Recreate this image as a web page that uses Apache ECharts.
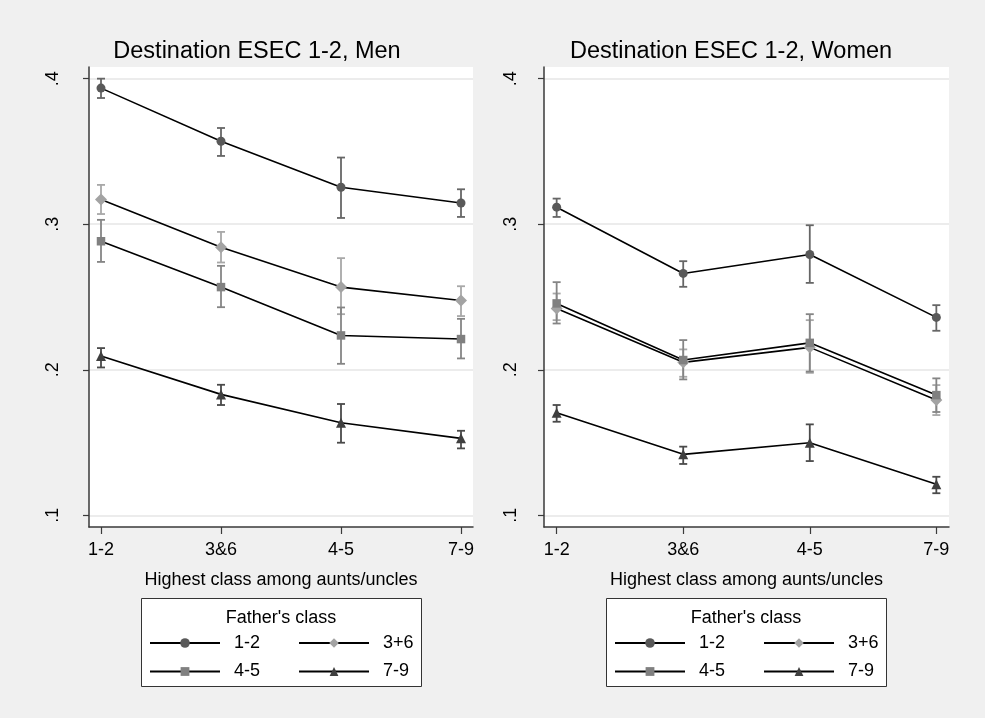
<!DOCTYPE html>
<html>
<head>
<meta charset="utf-8">
<script src="https://cdn.jsdelivr.net/npm/echarts@6/dist/echarts.min.js"></script>
<style>
html,body{margin:0;padding:0;background:#f0f0f0;}
#c{width:985px;height:718px;}
</style>
</head>
<body>
<div id="c"></div>
<script>
// ---- data ----
const categories = ['1-2', '3&6', '4-5', '7-9'];
const fatherClasses = ['1-2', '3+6', '4-5', '7-9'];
const yTicks = [0.1, 0.2, 0.3, 0.4];
const panelTitles = ['Destination ESEC 1-2, Men', 'Destination ESEC 1-2, Women'];
const xTitle = 'Highest class among aunts/uncles';
const legendTitle = "Father's class";

// Men
const menPt12 = [0.3935, 0.3570, 0.3254, 0.3146];
const menLo12 = [0.3867, 0.3469, 0.3043, 0.3050];
const menHi12 = [0.4000, 0.3661, 0.3458, 0.3240];
const menPt36 = [0.3170, 0.2842, 0.2568, 0.2476];
const menLo36 = [0.3070, 0.2737, 0.2382, 0.2369];
const menHi36 = [0.3270, 0.2947, 0.2767, 0.2574];
const menPt45 = [0.2883, 0.2568, 0.2236, 0.2211];
const menLo45 = [0.2741, 0.2430, 0.2041, 0.2078];
const menHi45 = [0.3030, 0.2714, 0.2428, 0.2350];
const menPt79 = [0.2094, 0.1831, 0.1636, 0.1529];
const menLo79 = [0.2016, 0.1758, 0.1499, 0.1460];
const menHi79 = [0.2149, 0.1897, 0.1765, 0.1581];

// Women
const womenPt12 = [0.3117, 0.2662, 0.2792, 0.2360];
const womenLo12 = [0.3050, 0.2570, 0.2597, 0.2268];
const womenHi12 = [0.3176, 0.2746, 0.2993, 0.2444];
const womenPt36 = [0.2421, 0.2051, 0.2154, 0.1792];
const womenLo36 = [0.2341, 0.1952, 0.1979, 0.1689];
const womenHi36 = [0.2524, 0.2140, 0.2341, 0.1895];
const womenPt45 = [0.2456, 0.2067, 0.2185, 0.1826];
const womenLo45 = [0.2318, 0.1934, 0.1988, 0.1710];
const womenHi45 = [0.2602, 0.2204, 0.2382, 0.1941];
const womenPt79 = [0.1705, 0.1419, 0.1499, 0.1213];
const womenLo79 = [0.1643, 0.1353, 0.1373, 0.1152];
const womenHi79 = [0.1758, 0.1472, 0.1625, 0.1265];

// ---- styles ----
const FONT = "'Liberation Sans', Arial, Helvetica, sans-serif";
const markerSymbols = ['circle', 'diamond', 'rect', 'triangle'];
const markerSizes = [9, 12, 8.5, 10];
const markerColors = ['#595959', '#a3a3a3', '#808080', '#3f3f3f'];
const barColors = ['#666666', '#a8a8a8', '#858585', '#4a4a4a'];

const panels = [
  { pts: [menPt12, menPt36, menPt45, menPt79], lo: [menLo12, menLo36, menLo45, menLo79], hi: [menHi12, menHi36, menHi45, menHi79] },
  { pts: [womenPt12, womenPt36, womenPt45, womenPt79], lo: [womenLo12, womenLo36, womenLo45, womenLo79], hi: [womenHi12, womenHi36, womenHi45, womenHi79] }
];

const gridsLayout = [
  { left: 89, right: 512, top: 67, bottom: 191 },
  { left: 544, right: 36, top: 67, bottom: 191 }
];

function makeX(i) {
  return {
    type: 'value', gridIndex: i, min: 0.9, max: 4.1,
    axisLine: { show: true, lineStyle: { color: '#3a3a3a', width: 1.5 } },
    axisTick: { show: true, length: 7, customValues: [1, 2, 3, 4], lineStyle: { color: '#3a3a3a', width: 1.2 } },
    axisLabel: { customValues: [1, 2, 3, 4], formatter: v => categories[Math.round(v) - 1], color: '#000', fontSize: 18, fontFamily: FONT, margin: 14 },
    splitLine: { show: false },
    name: xTitle, nameLocation: 'middle', nameGap: 44,
    nameTextStyle: { color: '#000', fontSize: 18, fontFamily: FONT }
  };
}
function makeY(i) {
  return {
    type: 'value', gridIndex: i, min: 0.092, max: 0.408,
    axisLine: { show: true, lineStyle: { color: '#3a3a3a', width: 1.5 } },
    axisTick: { show: true, length: 6, customValues: yTicks, lineStyle: { color: '#3a3a3a', width: 1.2 } },
    axisLabel: { customValues: yTicks, rotate: 90, formatter: v => '.' + Math.round(v * 10), color: '#000', fontSize: 18, fontFamily: FONT, margin: i === 0 ? 27 : 24 },
    splitLine: { show: true, lineStyle: { color: '#e6e6e6', width: 1.5 } }
  };
}

const series = [];
panels.forEach((p, gi) => {
  for (let s = 0; s < 4; s++) {
    series.push({
      type: 'custom', name: 'ci' + gi + '_' + s, xAxisIndex: gi, yAxisIndex: gi, z: 2,
      data: p.lo[s].map((lo, k) => [k + 1, lo, p.hi[s][k]]),
      renderItem: function (params, api) {
        const x = api.value(0);
        const a = api.coord([x, api.value(2)]);
        const b = api.coord([x, api.value(1)]);
        const w = 4;
        const st = { stroke: barColors[s], lineWidth: 1.8 };
        return {
          type: 'group', children: [
            { type: 'line', shape: { x1: a[0], y1: a[1], x2: b[0], y2: b[1] }, style: st },
            { type: 'line', shape: { x1: a[0] - w, y1: a[1], x2: a[0] + w, y2: a[1] }, style: st },
            { type: 'line', shape: { x1: b[0] - w, y1: b[1], x2: b[0] + w, y2: b[1] }, style: st }
          ]
        };
      },
      silent: true
    });
  }
  for (let s = 0; s < 4; s++) {
    series.push({
      type: 'line', name: fatherClasses[s], xAxisIndex: gi, yAxisIndex: gi, z: 3,
      data: p.pts[s].map((v, k) => [k + 1, v]),
      symbol: markerSymbols[s], symbolSize: markerSizes[s], showSymbol: true,
      lineStyle: { color: '#000', width: 1.6 },
      itemStyle: { color: markerColors[s], borderWidth: 0 },
      emphasis: { disabled: true }, silent: true, animation: false
    });
  }
});

const legendBoxes = [
  { x: 141, center: 281, itemLeft: 149 },
  { x: 606, center: 746, itemLeft: 614 }
];
const legends = [];
legendBoxes.forEach(b => {
  [[fatherClasses[0], fatherClasses[1]], [fatherClasses[2], fatherClasses[3]]].forEach((row, r) => {
    const ih = r === 0 ? 12 : 11;
    legends.push({
      data: row, left: b.itemLeft, top: r === 0 ? 633 : 661.5, orient: 'horizontal',
      itemWidth: 70, itemHeight: ih, itemGap: 38, padding: 0, selectedMode: false,
      textStyle: { color: '#000', fontSize: 18, fontFamily: FONT, lineHeight: 20, padding: [0, 0, 0, 9] }
    });
  });
});

const graphics = [];
legendBoxes.forEach((b, i) => {
  graphics.push({ type: 'rect', shape: { x: b.x + 0.5, y: 598.5, width: 280, height: 88 }, style: { fill: '#fff', stroke: '#333', lineWidth: 1 }, z: -1 });
  graphics.push({ type: 'text', style: { x: b.center, y: 618.5, text: legendTitle, textAlign: 'center', textVerticalAlign: 'middle', fill: '#000', font: '18px ' + FONT } });
});
graphics.push({ type: 'text', style: { x: 257, y: 52, text: panelTitles[0], textAlign: 'center', textVerticalAlign: 'middle', fill: '#000', font: '23.5px ' + FONT } });
graphics.push({ type: 'text', style: { x: 731, y: 52, text: panelTitles[1], textAlign: 'center', textVerticalAlign: 'middle', fill: '#000', font: '23.5px ' + FONT } });

const chart = echarts.init(document.getElementById('c'), null, { renderer: 'canvas' });
chart.setOption({
  backgroundColor: '#f0f0f0',
  animation: false,
  textStyle: { fontFamily: FONT },
  grid: gridsLayout.map(g => Object.assign({ show: true, backgroundColor: '#fff', borderWidth: 0 }, g)),
  xAxis: [makeX(0), makeX(1)],
  yAxis: [makeY(0), makeY(1)],
  legend: legends,
  graphic: graphics,
  series: series
});
</script>
</body>
</html>
